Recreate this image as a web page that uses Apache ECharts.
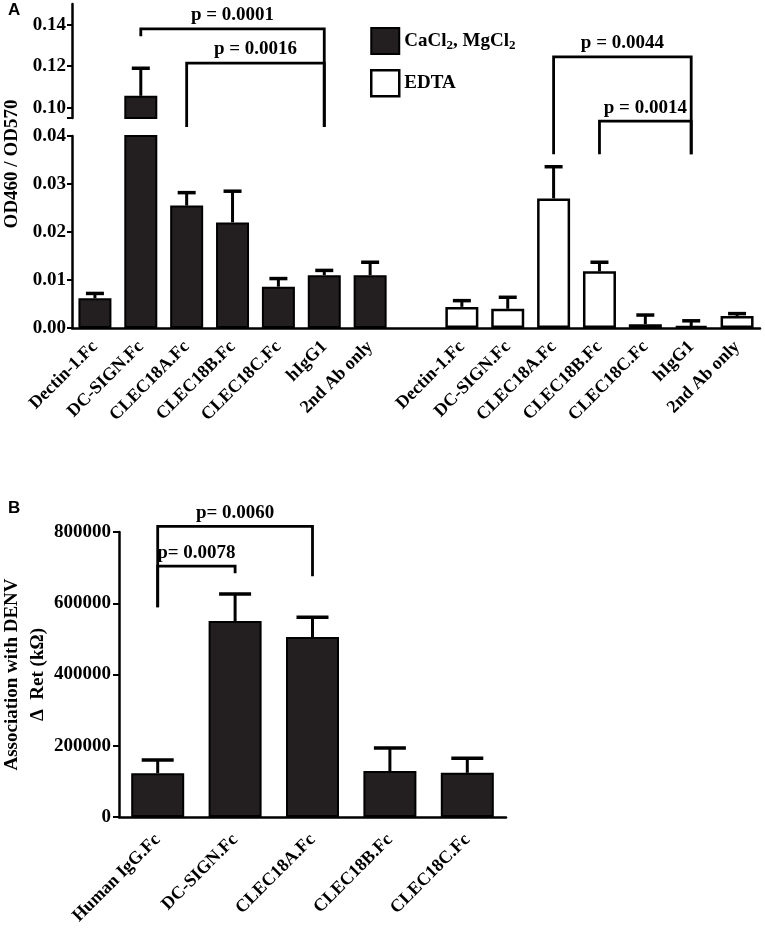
<!DOCTYPE html>
<html>
<head>
<meta charset="utf-8">
<script src="https://cdn.jsdelivr.net/npm/echarts@6/dist/echarts.min.js"></script>
<style>
html, body {margin: 0; padding: 0; background: #fff;}
#chart {width: 765px; height: 933px;}
</style>
</head>
<body>
<div id="chart"></div>
<script>
// ---- panel A data ----
const receptorsA = ['Dectin-1.Fc', 'DC-SIGN.Fc', 'CLEC18A.Fc', 'CLEC18B.Fc', 'CLEC18C.Fc', 'hIgG1', '2nd Ab only'];
const caMean = [0.0062, 0.1057, 0.0255, 0.0220, 0.0086, 0.0110, 0.0110];
const caSem = [0.0010, 0.0133, 0.0027, 0.0065, 0.0017, 0.0010, 0.0027];
const edtaMean = [0.0044, 0.0040, 0.0270, 0.0118, 0.0008, 0.0004, 0.0025];
const edtaSem = [0.0013, 0.0024, 0.0066, 0.0019, 0.0019, 0.0011, 0.0005];
const upperTicksA = [0.10, 0.12, 0.14];
// [from index, to index, bracket level, left leg end, right leg end, text]
const bracketsAUpper = [
  [1, 5, 0.1380, 0.1345, 0.0907, 'p = 0.0001'],
  [2, 5, 0.1215, 0.0907, 0.0907, 'p = 0.0016']
];
const bracketsALower = [
  [10, 13, 0.0565, 0.0362, 0.0362, 'p = 0.0044'],
  [11, 13, 0.0431, 0.0362, 0.0362, 'p = 0.0014']
];

// ---- panel B data ----
const receptorsB = ['Human IgG.Fc', 'DC-SIGN.Fc', 'CLEC18A.Fc', 'CLEC18B.Fc', 'CLEC18C.Fc'];
const denvMean = [123000, 550000, 505000, 129000, 124000];
const denvSem = [37000, 76000, 56000, 65000, 41000];
const bracketsB = [
  [0, 1, 704000, 589000, 684000, 'p= 0.0078'],
  [0, 2, 816000, 589000, 676000, 'p= 0.0060']
];

const caName = 'CaCl2, MgCl2';
const edtaName = 'EDTA';
const serif = "'Liberation Serif', 'Times New Roman', serif";
const dark = '#231f20';

// one gap slot between the two groups of panel A
const labelsA = receptorsA.concat([''], receptorsA);
const caData = labelsA.map((_, i) => (i < 7 ? caMean[i] : '-'));
const edtaData = labelsA.map((_, i) => (i > 7 ? edtaMean[i - 8] : '-'));
const errA = caMean.map((m, i) => [i, m, m + caSem[i]])
  .concat(edtaMean.map((m, i) => [i + 8, m, m + edtaSem[i]]));
const errB = denvMean.map((m, i) => [i, m, m + denvSem[i]]);

const errRender = capW => (params, api) => {
  const p0 = api.coord([api.value(0), api.value(1)]);
  const p1 = api.coord([api.value(0), api.value(2)]);
  return {
    type: 'group',
    children: [
      {type: 'line', shape: {x1: p0[0], y1: p0[1], x2: p1[0], y2: p1[1]}, style: {stroke: '#000', lineWidth: 3}},
      {type: 'line', shape: {x1: p1[0] - capW / 2, y1: p1[1], x2: p1[0] + capW / 2, y2: p1[1]}, style: {stroke: '#000', lineWidth: 3.5}}
    ]
  };
};

const bracketRender = list => (params, api) => {
  const b = list[params.dataIndex];
  const a1 = api.coord([b[0], b[3]]);
  const t1 = api.coord([b[0], b[2]]);
  const t2 = api.coord([b[1], b[2]]);
  const a2 = api.coord([b[1], b[4]]);
  return {
    type: 'group',
    children: [
      {type: 'polyline', shape: {points: [a1, t1, t2, a2]}, style: {stroke: '#000', lineWidth: 2.8, fill: null}},
      {
        type: 'text', x: (t1[0] + t2[0]) / 2, y: t1[1] - 4,
        style: {text: b[5], textAlign: 'center', textVerticalAlign: 'bottom', fontSize: 19, fontWeight: 'bold', fontFamily: serif, fill: '#000'}
      }
    ]
  };
};

const axisLine = {show: true, lineStyle: {color: '#000', width: 2.5}};
const tickLabel = {color: '#000', fontSize: 19, fontWeight: 'bold', fontFamily: serif};

const chart = echarts.init(document.getElementById('chart'));
chart.setOption({
  animation: false,
  grid: [
    {left: 72, top: 4, width: 688, height: 114, outerBoundsMode: 'none', containLabel: false},
    {left: 72, top: 136, width: 688, height: 192, outerBoundsMode: 'none', containLabel: false},
    {left: 119, top: 532, width: 387, height: 285, outerBoundsMode: 'none', containLabel: false}
  ],
  legend: {
    orient: 'vertical', left: 365, top: 22, itemWidth: 28, itemHeight: 26, itemGap: 14,
    icon: 'rect',
    data: [
      {name: caName, itemStyle: {color: dark, borderColor: '#000', borderWidth: 2}},
      {name: edtaName, itemStyle: {color: '#fff', borderColor: '#000', borderWidth: 2.5}}
    ],
    formatter: n => n.replace(/2/g, '{s|2}'),
    textStyle: {
      color: '#000', fontSize: 19, fontWeight: 'bold', fontFamily: serif, lineHeight: 22,
      rich: {s: {fontSize: 13, fontWeight: 'bold', fontFamily: serif, verticalAlign: 'bottom', lineHeight: 12, padding: [10, 0, 0, 0]}}
    }
  },
  graphic: [
    {type: 'text', left: 8, top: 2, style: {text: 'A', fontSize: 17, fontWeight: 'bold', fontFamily: "'Liberation Sans', Arial, sans-serif", fill: '#000'}},
    {type: 'text', left: 8, top: 500, style: {text: 'B', fontSize: 17, fontWeight: 'bold', fontFamily: "'Liberation Sans', Arial, sans-serif", fill: '#000'}},
    {
      type: 'text', x: 12, y: 164, rotation: Math.PI / 2,
      style: {text: 'OD460 / OD570', textAlign: 'center', textVerticalAlign: 'middle', fontSize: 19, fontWeight: 'bold', fontFamily: serif, fill: '#000'}
    }
  ],
  xAxis: [
    {gridIndex: 0, type: 'category', data: labelsA, show: false},
    {
      gridIndex: 1, type: 'category', data: labelsA, axisLine: axisLine,
      axisTick: {alignWithLabel: true, length: 6, lineStyle: {color: '#000', width: 2}},
      axisLabel: Object.assign({interval: 0, rotate: 45, margin: 16}, tickLabel, {fontSize: 18})
    },
    {
      gridIndex: 2, type: 'category', data: receptorsB, axisLine: axisLine,
      axisTick: {alignWithLabel: true, length: 7, lineStyle: {color: '#000', width: 2}},
      axisLabel: Object.assign({interval: 0, rotate: 45, margin: 20}, tickLabel, {fontSize: 18})
    }
  ],
  yAxis: [
    {
      gridIndex: 0, type: 'value', min: 0.095, max: 0.15, axisLine: axisLine, splitLine: {show: false},
      axisTick: {show: true, length: 5, customValues: [0.095].concat(upperTicksA), lineStyle: {color: '#000', width: 2}},
      axisLabel: Object.assign({customValues: upperTicksA, margin: 6, formatter: v => v.toFixed(2)}, tickLabel)
    },
    {
      gridIndex: 1, type: 'value', min: 0, max: 0.04, interval: 0.01, axisLine: axisLine, splitLine: {show: false},
      axisTick: {show: true, length: 5, lineStyle: {color: '#000', width: 2}},
      axisLabel: Object.assign({margin: 6, formatter: v => v.toFixed(2)}, tickLabel)
    },
    {
      gridIndex: 2, type: 'value', min: 0, max: 800000, interval: 200000, axisLine: axisLine, splitLine: {show: false},
      axisTick: {show: true, length: 6, lineStyle: {color: '#000', width: 2}},
      axisLabel: Object.assign({margin: 8, formatter: v => String(v)}, tickLabel),
      name: 'Association with DENV\nΔ  Ret (kΩ)', nameLocation: 'middle', nameRotate: 90, nameGap: 68,
      nameMoveOverlap: false,
      nameTextStyle: {color: '#000', fontSize: 19, fontWeight: 'bold', fontFamily: serif, lineHeight: 26}
    }
  ],
  series: [
    {
      name: caName, type: 'bar', xAxisIndex: 0, yAxisIndex: 0, data: caData, barWidth: 33,
      itemStyle: {color: dark, borderColor: '#000', borderWidth: 2}
    },
    {
      name: caName, type: 'bar', xAxisIndex: 1, yAxisIndex: 1, data: caData, barWidth: 33, barGap: '-100%',
      itemStyle: {color: dark, borderColor: '#000', borderWidth: 2}
    },
    {
      name: edtaName, type: 'bar', xAxisIndex: 1, yAxisIndex: 1, data: edtaData, barWidth: 33, barGap: '-100%',
      itemStyle: {color: '#fff', borderColor: '#000', borderWidth: 2.5}
    },
    {type: 'custom', xAxisIndex: 0, yAxisIndex: 0, data: errA, clip: true, renderItem: errRender(18), z: 3},
    {type: 'custom', xAxisIndex: 1, yAxisIndex: 1, data: errA, clip: true, renderItem: errRender(18), z: 3},
    {type: 'custom', xAxisIndex: 0, yAxisIndex: 0, data: bracketsAUpper.map(b => [b[0], b[2]]), renderItem: bracketRender(bracketsAUpper), z: 4},
    {type: 'custom', xAxisIndex: 1, yAxisIndex: 1, data: bracketsALower.map(b => [b[0], b[2]]), renderItem: bracketRender(bracketsALower), z: 4},
    {
      type: 'bar', xAxisIndex: 2, yAxisIndex: 2, data: denvMean, barWidth: 53,
      itemStyle: {color: dark, borderColor: '#000', borderWidth: 2}
    },
    {type: 'custom', xAxisIndex: 2, yAxisIndex: 2, data: errB, clip: true, renderItem: errRender(32), z: 3},
    {type: 'custom', xAxisIndex: 2, yAxisIndex: 2, data: bracketsB.map(b => [b[0], b[2]]), renderItem: bracketRender(bracketsB), z: 4}
  ]
});
</script>
</body>
</html>
